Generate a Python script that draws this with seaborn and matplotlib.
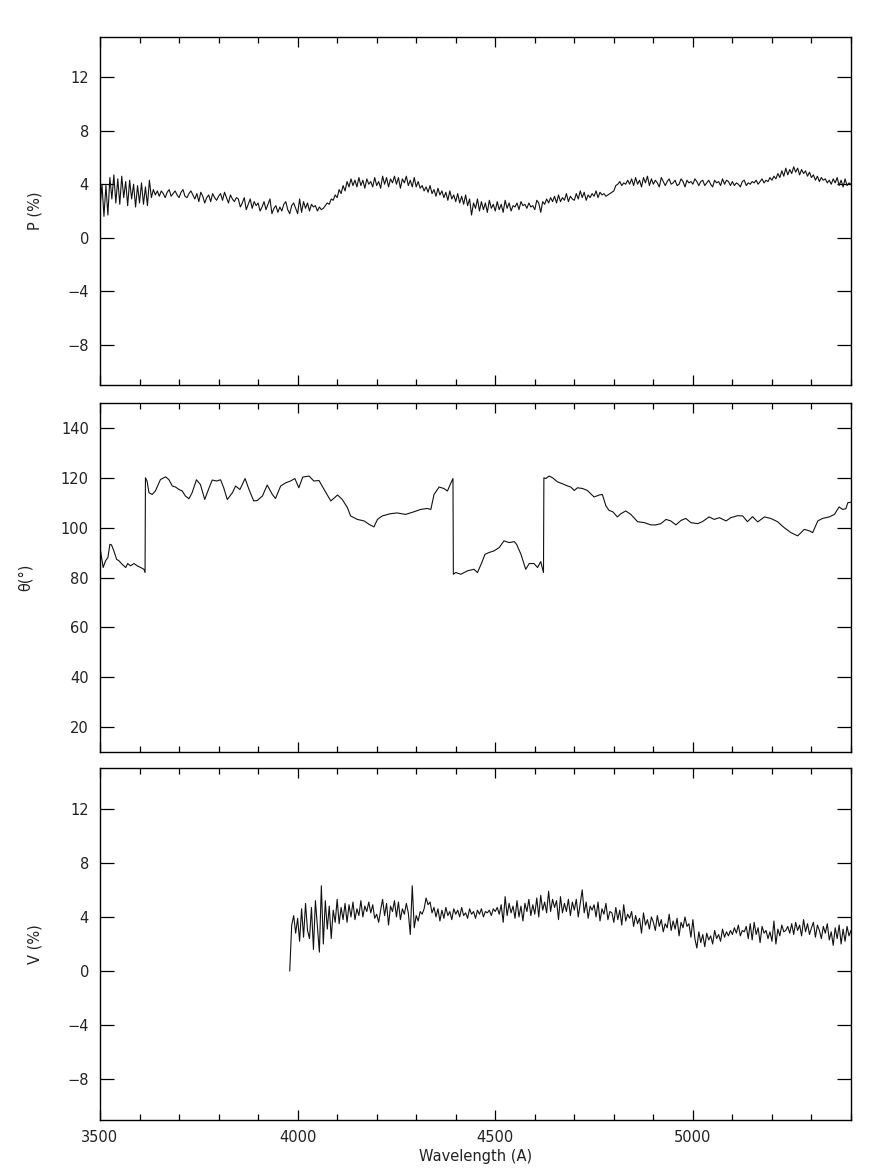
import numpy as np
import pandas as pd
import matplotlib
matplotlib.use("Agg")
import matplotlib.pyplot as plt
from matplotlib.ticker import MultipleLocator, FixedLocator
import seaborn as sns

# ---------------- data ----------------
# Polarisation P (%) sampled every 5 A from 3500 to 5400 A
p_start, p_step = 3500, 5
p_values = [
    2.2, 4.0, 1.6, 3.9, 1.7, 4.5, 2.9, 4.7, 2.6, 4.4,
    2.5, 4.6, 3.0, 4.2, 2.4, 4.3, 2.9, 4.0, 2.3, 3.9,
    2.6, 4.1, 2.5, 3.8, 2.4, 4.3, 3.0, 3.6, 3.2, 3.5,
    3.1, 3.5, 3.3, 3.0, 3.4, 3.6, 3.1, 3.3, 3.5, 3.2,
    3.0, 3.4, 3.6, 3.1, 3.0, 3.3, 3.5, 3.2, 2.9, 3.3,
    2.7, 3.4, 3.1, 2.6, 3.0, 3.2, 2.7, 3.3, 3.0, 2.8,
    3.1, 3.3, 2.8, 3.4, 3.0, 2.6, 3.2, 2.9, 2.7, 3.0,
    2.9, 2.3, 2.6, 3.0, 2.1, 2.5, 2.9, 2.2, 2.7, 2.4,
    2.6, 2.0, 2.3, 2.7, 2.1, 2.5, 2.9, 1.8, 2.2, 2.4,
    1.9, 2.3, 2.0, 2.5, 2.7, 2.1, 1.8, 2.4, 2.6, 2.2,
    1.8, 2.9, 1.9, 2.7, 2.2, 2.6, 2.0, 2.5, 2.3, 2.4,
    2.0, 2.3, 2.1, 2.2, 2.4, 2.6, 2.5, 2.9, 2.8, 3.2,
    3.0, 3.6, 3.3, 3.9, 3.5, 4.2, 3.8, 4.4, 3.9, 4.3,
    3.8, 4.5, 3.9, 4.3, 3.7, 4.4, 4.0, 4.2, 3.8, 4.5,
    3.9, 4.2, 3.7, 4.6, 4.0, 4.5, 3.8, 4.4, 4.1, 4.6,
    4.0, 4.5, 3.7, 4.4, 4.1, 4.6, 3.9, 4.3, 3.8, 4.5,
    3.8, 4.2, 3.7, 3.9, 3.5, 3.8, 3.4, 3.9, 3.3, 3.6,
    3.1, 3.7, 3.2, 3.5, 3.0, 3.4, 2.8, 3.5, 2.9, 3.2,
    2.7, 3.3, 2.6, 3.1, 2.5, 3.2, 2.4, 2.9, 1.7, 2.6,
    2.2, 2.9, 2.0, 2.7, 2.1, 2.6, 1.9, 2.8, 2.2, 2.5,
    2.0, 2.7, 2.1, 2.5, 1.9, 2.8, 2.2, 2.6, 2.0, 2.4,
    2.3, 2.6, 2.1, 2.7, 2.4, 2.5, 2.2, 2.6, 2.3, 2.4,
    2.1, 2.8, 2.6, 1.9, 2.7, 2.5, 2.9, 2.6, 3.0, 2.7,
    3.1, 2.6, 3.2, 2.7, 3.0, 2.8, 3.3, 2.7, 3.1, 2.9,
    2.8, 3.3, 2.9, 3.5, 3.0, 3.4, 2.8, 3.2, 3.0, 3.3,
    3.1, 3.5, 3.0, 3.4, 3.2, 3.3, 3.1, 3.2, 3.3, 3.4,
    3.5, 3.9, 4.0, 4.2, 3.9, 4.1, 4.0, 4.3, 4.0, 4.4,
    3.9, 4.5, 4.0, 4.3, 3.8, 4.5, 4.1, 4.6, 3.9, 4.4,
    4.0, 4.3, 4.1, 3.8, 4.5, 4.2, 3.9, 4.2, 4.4, 4.0,
    4.1, 4.3, 3.9, 4.0, 4.4, 4.2, 3.8, 4.3, 4.1, 4.2,
    4.0, 4.4, 4.2, 3.9, 4.2, 4.3, 3.9, 4.1, 4.3, 4.0,
    3.8, 4.3, 4.1, 4.2, 3.9, 4.4, 4.0, 4.3, 4.2, 3.9,
    4.2, 3.9, 4.1, 4.0, 3.8, 4.2, 4.3, 3.9, 4.1, 4.0,
    4.2, 4.1, 4.3, 4.0, 4.2, 4.4, 4.1, 4.3, 4.2, 4.5,
    4.3, 4.6, 4.4, 4.8, 4.5, 5.0, 4.6, 5.2, 4.7, 5.1,
    4.8, 5.3, 4.9, 5.2, 4.7, 5.1, 4.8, 5.0, 4.6, 4.9,
    4.5, 4.7, 4.3, 4.6, 4.2, 4.5, 4.3, 4.4, 4.1, 4.3,
    4.0, 4.4, 4.1, 4.5, 3.9, 4.3, 3.8, 4.4, 3.9, 4.1,
    4.0,
]

theta_wl = [
    3500, 3508, 3514, 3520, 3525, 3529, 3535, 3542, 3548, 3556,
    3565, 3570, 3577, 3586, 3594, 3603, 3611, 3614, 3615, 3619,
    3624, 3632, 3640, 3653, 3666, 3674, 3683, 3691, 3700, 3708,
    3716, 3725, 3733, 3744, 3754, 3765, 3776, 3784, 3795, 3805,
    3813, 3822, 3835, 3843, 3854, 3867, 3877, 3889, 3898, 3911,
    3923, 3936, 3944, 3957, 3970, 3982, 3993, 4003, 4013, 4029,
    4041, 4054, 4067, 4084, 4101, 4113, 4126, 4134, 4151, 4168,
    4181, 4193, 4202, 4214, 4235, 4252, 4273, 4295, 4311, 4328,
    4337, 4345, 4358, 4370, 4379, 4386, 4392, 4393, 4394, 4400,
    4413, 4430, 4446, 4455, 4466, 4474, 4484, 4497, 4510, 4522,
    4535, 4548, 4554, 4565, 4577, 4586, 4598, 4607, 4615, 4622,
    4623, 4628, 4636, 4645, 4657, 4670, 4683, 4691, 4700, 4708,
    4721, 4733, 4750, 4763, 4771, 4780, 4788, 4797, 4809, 4818,
    4830, 4843, 4860, 4877, 4894, 4906, 4919, 4932, 4944, 4957,
    4970, 4982, 4995, 5012, 5024, 5041, 5054, 5067, 5084, 5096,
    5113, 5126, 5138, 5151, 5164, 5181, 5197, 5214, 5231, 5248,
    5265, 5282, 5295, 5303, 5316, 5328, 5345, 5358, 5370, 5379,
    5387, 5392, 5400,
]
theta_deg = [
    92.0, 84.0, 86.7, 88.0, 93.3, 93.1, 90.7, 87.3, 86.7, 85.3,
    84.0, 85.6, 84.7, 85.6, 84.7, 84.0, 83.3, 82.0, 120.0, 118.7,
    114.0, 113.3, 114.7, 119.3, 120.4, 119.3, 116.7, 116.3, 115.3, 114.7,
    112.7, 111.6, 114.0, 119.2, 117.3, 111.3, 116.0, 119.1, 118.7, 119.2,
    116.0, 111.3, 114.0, 116.7, 115.3, 119.7, 115.3, 110.7, 110.9, 112.7,
    117.1, 113.3, 111.7, 116.7, 118.0, 118.7, 119.7, 116.0, 120.3, 120.7,
    118.7, 118.9, 115.3, 110.7, 113.1, 111.3, 108.0, 104.7, 103.3, 102.7,
    101.3, 100.3, 103.3, 104.7, 105.6, 105.9, 105.3, 106.4, 107.3, 107.7,
    107.3, 113.3, 116.3, 115.7, 114.7, 117.3, 119.3, 119.7, 81.3, 82.0,
    81.3, 82.7, 83.3, 82.0, 86.0, 89.3, 90.0, 90.7, 92.0, 94.7,
    94.0, 94.4, 93.3, 89.3, 83.3, 85.6, 85.6, 84.0, 86.4, 82.0,
    120.0, 119.7, 120.7, 120.0, 118.4, 117.6, 116.7, 116.3, 114.9, 116.0,
    115.7, 114.9, 112.3, 113.1, 113.3, 108.7, 106.9, 106.4, 104.3, 105.6,
    106.7, 105.3, 102.4, 102.0, 101.1, 101.1, 101.6, 103.3, 102.7, 101.1,
    102.9, 103.7, 102.0, 101.6, 102.4, 104.3, 103.3, 104.0, 102.7, 104.0,
    104.8, 104.7, 102.4, 104.4, 102.3, 104.3, 103.7, 102.4, 100.0, 98.0,
    96.7, 99.3, 98.7, 98.0, 102.7, 103.7, 104.3, 105.3, 108.3, 107.3,
    107.6, 110.0, 110.2,
]

# Circular polarisation V (%) sampled every 5 A from 3980 to 5400 A
v_start, v_step = 3980, 5
v_values = [
    0.0, 3.4, 4.1, 2.8,
    3.9, 2.2, 4.6, 2.5, 5.0, 3.0, 2.4, 4.7, 1.6, 5.2,
    3.3, 1.4, 6.3, 2.0, 5.2, 3.1, 4.8, 2.4, 4.5, 3.6,
    5.3, 3.5, 4.7, 3.8, 5.0, 3.6, 4.9, 4.0, 5.1, 3.8,
    4.6, 4.1, 5.2, 4.0, 4.8, 4.4, 5.1, 4.3, 4.9, 3.9,
    4.2, 3.6, 4.5, 5.3, 4.1, 5.0, 3.4, 4.8, 4.4, 5.2,
    4.0, 5.1, 3.8, 4.6, 4.2, 5.0, 4.3, 2.7, 6.3, 3.2,
    4.1, 3.7, 4.4, 4.2, 4.6, 5.4, 4.9, 5.1, 4.3, 4.7,
    4.0, 4.6, 3.7, 4.5, 3.9, 4.7, 4.1, 4.4, 3.8, 4.6,
    4.2, 4.5, 4.0, 4.7, 4.1, 4.3, 3.9, 4.6, 4.2, 4.4,
    3.9, 4.5, 4.2, 4.6, 4.0, 4.4, 4.3, 4.5, 4.1, 4.6,
    4.4, 4.7, 4.2, 4.9, 3.6, 5.5, 4.1, 5.0, 4.3, 4.8,
    3.9, 5.2, 4.0, 4.8, 3.7, 5.0, 4.4, 5.3, 4.1, 4.9,
    4.2, 5.4, 4.0, 5.6, 4.5, 5.1, 4.3, 5.9, 4.4, 5.3,
    4.7, 5.2, 3.8, 5.5, 4.3, 5.0, 4.4, 5.3, 4.1, 5.1,
    4.5, 5.3, 4.0, 5.0, 6.0, 4.3, 5.1, 3.9, 4.8, 4.5,
    4.9, 4.0, 5.1, 3.7, 4.6, 4.2, 5.0, 3.8, 4.4, 4.3,
    3.6, 4.7, 3.8, 4.5, 3.4, 4.9, 3.7, 4.2, 3.9, 4.4,
    3.3, 4.1, 3.5, 3.9, 2.8, 4.3, 3.4, 3.8, 3.1, 4.0,
    3.6, 3.0, 4.1, 3.3, 3.8, 2.9, 3.5, 3.2, 4.2, 3.0,
    3.7, 3.1, 3.9, 2.6, 3.6, 3.2, 4.0, 3.3, 3.5, 2.5,
    3.8, 2.4, 1.7, 2.9, 2.1, 2.7, 1.8, 2.8, 2.3, 2.6,
    2.0, 3.0, 2.4, 2.7, 2.2, 3.1, 2.5, 2.9, 2.6, 3.0,
    2.7, 3.2, 2.8, 3.4, 2.6, 3.0, 2.9, 3.3, 2.4, 3.5,
    2.3, 3.6, 2.7, 3.2, 2.1, 3.3, 2.8, 3.0, 2.4, 2.9,
    2.2, 3.7, 2.0, 3.1, 2.6, 3.4, 2.9, 3.0, 3.3, 2.8,
    3.5, 2.7, 3.6, 3.0, 3.4, 2.6, 3.8, 2.9, 3.5, 2.7,
    3.2, 3.6, 2.5, 3.4, 3.0, 2.4, 3.3, 2.8, 3.5, 2.3,
    2.9, 1.9, 3.2, 2.4, 3.4, 2.0, 3.1, 2.2, 3.3, 2.6,
    3.0,
]

pv_ticks = [-8, -4, 0, 4, 8, 12]
theta_ticks = [20, 40, 60, 80, 100, 120, 140]
x_major_ticks = [3500, 4000, 4500, 5000]
x_ticklabels = ["3500", "4000", "4500", "5000"]

p_df = pd.DataFrame({"wl": p_start + p_step * np.arange(len(p_values)), "val": p_values})
t_df = pd.DataFrame({"wl": theta_wl, "val": theta_deg})
v_df = pd.DataFrame({"wl": v_start + v_step * np.arange(len(v_values)), "val": v_values})

# ---------------- figure ----------------
sns.set_style("ticks")
plt.rcParams["font.family"] = ["DejaVu Sans"]
plt.rcParams["axes.edgecolor"] = "black"
plt.rcParams["axes.linewidth"] = 1.0

fig = plt.figure(figsize=(8.72, 11.7), dpi=100)
L, W = 100 / 872, 751 / 872
ax1 = fig.add_axes([L, 1 - 385 / 1170, W, 348 / 1170])
ax2 = fig.add_axes([L, 1 - 752 / 1170, W, 349 / 1170])
ax3 = fig.add_axes([L, 1 - 1120 / 1170, W, 352 / 1170])

FS = 10.5
specs = [
    (ax1, p_df, (-11, 15), pv_ticks, "P (%)", 0.077),
    (ax2, t_df, (10, 150), theta_ticks, "θ(°)", 0.090),
    (ax3, v_df, (-11, 15), pv_ticks, "V (%)", 0.077),
]

for ax, df, ylim, yt, ylab, lx in specs:
    sns.lineplot(data=df, x="wl", y="val", ax=ax, color="#111111", linewidth=0.8,
                 estimator=None, sort=False, legend=False)
    ax.set_xlim(3500, 5400)
    ax.set_ylim(*ylim)
    ax.xaxis.set_major_locator(FixedLocator(x_major_ticks))
    ax.xaxis.set_minor_locator(MultipleLocator(100))
    ax.yaxis.set_major_locator(FixedLocator(yt))
    ax.tick_params(axis="both", which="both", direction="in", top=True, right=True,
                   color="black", width=0.9, labelsize=FS, labelcolor="#222222")
    ax.tick_params(axis="x", which="major", length=7)
    ax.tick_params(axis="x", which="minor", length=4)
    ax.tick_params(axis="y", which="major", length=10, pad=8)
    ax.tick_params(axis="x", which="major", pad=7)
    ax.set_ylabel(ylab, fontsize=FS, color="#222222")
    ax.yaxis.set_label_coords(-lx, 0.5)
    ax.set_xlabel("")
    for s in ax.spines.values():
        s.set_visible(True)
        s.set_color("black")

ax1.tick_params(axis="x", labelbottom=False)
ax2.tick_params(axis="x", labelbottom=False)
ax3.set_xticks(x_major_ticks)
ax3.set_xticklabels(x_ticklabels)
ax3.set_xlabel("Wavelength (A)", fontsize=FS, color="#222222", labelpad=3)

fig.savefig("out.png", dpi=100, facecolor="white")
